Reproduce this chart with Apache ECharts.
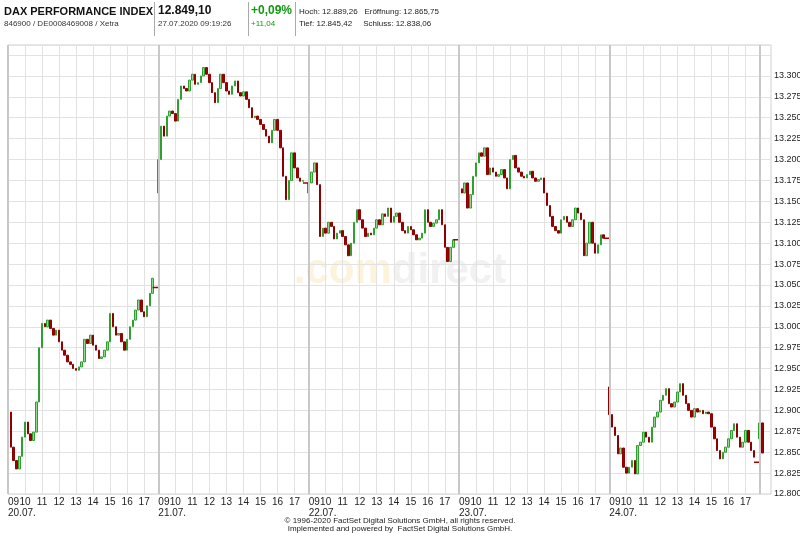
<!DOCTYPE html>
<html><head><meta charset="utf-8">
<script src="https://cdn.jsdelivr.net/npm/echarts@6/dist/echarts.min.js"></script>
<style>html,body{margin:0;padding:0;background:#fff}#c{width:800px;height:533px}</style>
</head><body><div id="c"></div>
<script>
// 10-minute closes per trading day (09:00 .. 17:30)
const dayDates = ['20.07.', '21.07.', '22.07.', '23.07.', '24.07.', '27.07.'];
const dayOpens = [12898, 13160, 13160, 13183, 12928, 12866];
const day1 = [12898,12856,12840,12830,12845,12868,12886,12872,12864,12874,12910,12975,13004,13000,13008,12998,12990,12996,12982,12972,12966,12958,12955,12950,12948,12952,12958,12985,12980,12990,12978,12972,12962,12964,12972,12982,13016,13000,12990,12992,12982,12972,12985,13000,13008,13020,13032,13018,13012,13025,13040,13058];
const day2 = [13200,13240,13228,13252,13258,13255,13246,13272,13288,13285,13282,13295,13302,13290,13292,13300,13310,13302,13292,13280,13268,13285,13302,13292,13282,13278,13288,13294,13280,13276,13281,13272,13262,13250,13252,13248,13242,13236,13228,13220,13235,13248,13235,13214,13180,13152,13175,13208,13190,13178,13174,13175];
const day3 = [13172,13185,13196,13170,13108,13118,13112,13125,13120,13105,13112,13115,13108,13098,13085,13100,13125,13140,13128,13118,13108,13112,13110,13118,13128,13122,13135,13132,13142,13125,13132,13136,13125,13115,13112,13120,13116,13110,13104,13106,13112,13140,13125,13120,13124,13128,13140,13122,13095,13078,13095,13104];
const day4 = [13165,13160,13172,13142,13158,13180,13196,13208,13204,13214,13182,13190,13185,13180,13182,13188,13178,13165,13200,13205,13190,13185,13180,13178,13182,13186,13178,13174,13176,13178,13160,13145,13132,13120,13115,13112,13128,13132,13125,13120,13128,13142,13136,13128,13085,13100,13125,13100,13088,13098,13110,13106];
const day5 = [12895,12880,12870,12848,12855,12832,12825,12832,12840,12824,12858,12862,12874,12868,12862,12880,12892,12898,12912,12918,12926,12908,12904,12910,12922,12932,12918,12908,12900,12892,12902,12898,12900,12896,12898,12896,12880,12866,12852,12842,12850,12856,12866,12876,12884,12868,12856,12862,12876,12862,12852,12844];
const day6 = [12885, 12849];
const dayFlats = [13047, 13172, 13104, 13106, 12838];
const hourLabels = ['09','10','11','12','13','14','15','16','17'];
const yTicks = [12800, 13300, 25];

const SLOTS = 53, NCAT = 270;
const days = [day1, day2, day3, day4, day5, day6];
const cats = [], candles = [], flats = [];
for (let i = 0; i < NCAT; i++) { cats.push(String(i)); candles.push('-'); flats.push(null); }
days.forEach((d, di) => {
  let prev = dayOpens[di];
  d.forEach((c, j) => {
    const o = prev;
    candles[di * SLOTS + j] = [o, c, Math.min(o, c), Math.max(o, c)];
    prev = c;
  });
});
dayFlats.forEach((v, di) => { const b = di * SLOTS; flats[b + 51] = v; flats[b + 52] = v; flats[b + 53] = v; });

const isHour = (idx) => { const j = idx % SLOTS; return idx < 5 * SLOTS ? (j % 6 === 0 && j <= 48) : idx === 5 * SLOTS; };
const isDayStart = (idx) => idx % SLOTS === 0 && idx <= 5 * SLOTS;

const F = 'Liberation Sans, Arial, sans-serif';
const chart = echarts.init(document.getElementById('c'));
chart.setOption({
  animation: false,
  textStyle: { fontFamily: F },
  grid: { left: 8, right: 29, top: 45, bottom: 39, show: true, borderColor: '#d0d0d0', borderWidth: 1, outerBoundsMode: 'none', containLabel: false },
  xAxis: [{
    type: 'category', data: cats, boundaryGap: false,
    axisLine: { show: false }, axisTick: { show: false },
    splitLine: { show: true, interval: (i) => isHour(i), lineStyle: { color: '#e2e2e2', width: 1 } },
    axisLabel: { interval: (i) => isHour(i) && !isDayStart(i), formatter: (v, i) => hourLabels[(i % SLOTS) / 6], color: '#222', fontSize: 10, fontFamily: F, margin: 3 }
  }, {
    type: 'category', data: cats, boundaryGap: false, position: 'bottom',
    axisLine: { show: false }, axisTick: { show: false }, splitLine: { show: false },
    axisLabel: { interval: (i) => isDayStart(i) && i < 5 * SLOTS, formatter: (v, i) => '09\n' + dayDates[i / SLOTS], align: 'left', color: '#222', fontSize: 10, lineHeight: 11, fontFamily: F, margin: 3 }
  }],
  yAxis: {
    type: 'value', position: 'right', min: yTicks[0], max: 13337, interval: yTicks[2],
    axisLine: { show: false }, axisTick: { show: false },
    splitLine: { lineStyle: { color: '#e2e2e2' } },
    axisLabel: { formatter: (v) => v > yTicks[1] ? '' : (v / 1000).toFixed(3), color: '#222', fontSize: 9, fontFamily: F, margin: 3, overflow: 'none', width: 40 }
  },
  series: [{
    type: 'candlestick', data: candles, barWidth: 2,
    itemStyle: { color: '#8fd88f', color0: '#a00000', borderColor: '#2f9f2f', borderColor0: '#8f0000', borderWidth: 1 },
    markLine: { silent: true, symbol: 'none', label: { show: false },
      lineStyle: { color: '#c8c8c8', width: 2, type: 'solid' },
      data: [0, 1, 2, 3, 4, 5].map(d => ({ xAxis: String(d * SLOTS) })) }
  }, {
    type: 'line', data: flats, symbol: 'none', connectNulls: false,
    lineStyle: { color: '#a00000', width: 1.5 }
  }],
  graphic: [
    { type: 'text', left: 'center', top: 250, z: -1, style: { text: '{a|.com}{b|direct}', rich: { a: { fill: '#fbf3dc', fontSize: 42, fontWeight: 'bold', fontFamily: F }, b: { fill: '#f1f1f1', fontSize: 42, fontWeight: 'bold', fontFamily: F } } } },
    { type: 'text', left: 4, top: 6, style: { text: 'DAX PERFORMANCE INDEX', fill: '#111', font: 'bold 11px ' + F } },
    { type: 'text', left: 4, top: 20, style: { text: '846900 / DE0008469008 / Xetra', fill: '#333', font: '8px ' + F } },
    { type: 'rect', shape: { x: 154, y: 2, width: 1, height: 34 }, style: { fill: '#aaa' } },
    { type: 'text', left: 158, top: 5, style: { text: '12.849,10', fill: '#111', font: 'bold 12px ' + F } },
    { type: 'text', left: 158, top: 20, style: { text: '27.07.2020 09:19:26', fill: '#333', font: '8px ' + F } },
    { type: 'rect', shape: { x: 248, y: 2, width: 1, height: 34 }, style: { fill: '#aaa' } },
    { type: 'text', left: 251, top: 5, style: { text: '+0,09%', fill: '#119911', font: 'bold 12px ' + F } },
    { type: 'text', left: 251, top: 20, style: { text: '+11,04', fill: '#119911', font: '8px ' + F } },
    { type: 'rect', shape: { x: 295, y: 2, width: 1, height: 34 }, style: { fill: '#aaa' } },
    { type: 'text', left: 299, top: 8, style: { text: 'Hoch: 12.889,26   Eröffnung: 12.865,75', fill: '#222', font: '8px ' + F } },
    { type: 'text', left: 299, top: 20, style: { text: 'Tief: 12.845,42     Schluss: 12.838,06', fill: '#222', font: '8px ' + F } },
    { type: 'text', left: 'center', top: 517, style: { text: '© 1996-2020 FactSet Digital Solutions GmbH, all rights reserved.', fill: '#222', font: '8px ' + F } },
    { type: 'text', left: 'center', top: 525, style: { text: 'Implemented and powered by  FactSet Digital Solutions GmbH.', fill: '#222', font: '8px ' + F } }
  ]
});
</script></body></html>
